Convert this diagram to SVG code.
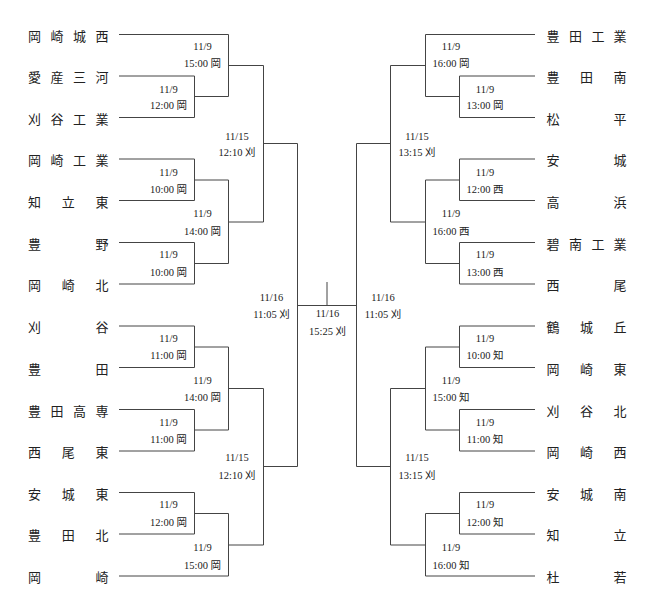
<svg xmlns="http://www.w3.org/2000/svg" width="654" height="610" viewBox="0 0 654 610">
<style>
.ln{fill:none;stroke:#444;stroke-width:1}
.tm{font-family:"Liberation Serif","Noto Sans CJK JP",serif;font-size:13px;fill:#222;text-anchor:middle}
.lb{font-family:"Liberation Serif","Noto Sans CJK JP",serif;font-size:10.5px;fill:#222;text-anchor:middle}
</style>
<rect width="654" height="610" fill="#fff"/>
<g id="connectors">
<!-- left side -->
<path class="ln" d="M119 34.5H228.5V96.5M119 76H194.5V117.5H119M194.5 96.5H228.5M228.5 65.5H263.5"/>
<path class="ln" d="M119 159H194.5V200.5H119M194.5 180H228.5M119 242.5H194.5V284H119M194.5 263.5H228.5M228.5 180V263.5M228.5 222H263.5"/>
<path class="ln" d="M263.5 65.5V222M263.5 143.5H297.5"/>
<path class="ln" d="M119 326H194.5V367.5H119M194.5 347H228.5M119 409.5H194.5V451H119M194.5 430H228.5M228.5 347V430M228.5 388.5H263.5"/>
<path class="ln" d="M119 492.5H194.5V534H119M194.5 513.5H228.5M119 576H228.5V513.5M228.5 545H263.5M263.5 388.5V545M263.5 466.5H297.5"/>
<path class="ln" d="M297.5 143.5V466.5M297.5 305.5H356.5M327 282V305.5"/>
<!-- right side -->
<path class="ln" d="M535 34.5H425.5V96.5M535 76H459.5V117.5H535M459.5 96.5H425.5M425.5 65.5H390.5"/>
<path class="ln" d="M535 159H459.5V200.5H535M459.5 180H425.5M535 242.5H459.5V284H535M459.5 263.5H425.5M425.5 180V263.5M425.5 222H390.5"/>
<path class="ln" d="M390.5 65.5V222M390.5 143.5H356.5"/>
<path class="ln" d="M535 326H459.5V367.5H535M459.5 347H425.5M535 409.5H459.5V451H535M459.5 430H425.5M425.5 347V430M425.5 388.5H390.5"/>
<path class="ln" d="M535 492.5H459.5V534H535M459.5 513.5H425.5M535 576H425.5V513.5M425.5 545H390.5M390.5 388.5V545M390.5 466.5H356.5"/>
<path class="ln" d="M356.5 143.5V466.5"/>
</g>
<g id="teams-left">
<text class="tm" x="34.5 57 79.5 102" y="40.5">岡崎城西</text>
<text class="tm" x="34.5 57 79.5 102" y="82">愛産三河</text>
<text class="tm" x="34.5 57 79.5 102" y="123.5">刈谷工業</text>
<text class="tm" x="34.5 57 79.5 102" y="165">岡崎工業</text>
<text class="tm" x="34.5 68.3 102" y="206.5">知立東</text>
<text class="tm" x="34.5 102" y="248.5">豊野</text>
<text class="tm" x="34.5 68.3 102" y="290">岡崎北</text>
<text class="tm" x="34.5 102" y="332">刈谷</text>
<text class="tm" x="34.5 102" y="373.5">豊田</text>
<text class="tm" x="34.5 57 79.5 102" y="415.5">豊田高専</text>
<text class="tm" x="34.5 68.3 102" y="457">西尾東</text>
<text class="tm" x="34.5 68.3 102" y="498.5">安城東</text>
<text class="tm" x="34.5 68.3 102" y="540">豊田北</text>
<text class="tm" x="34.5 102" y="582">岡崎</text>
</g>
<g id="teams-right">
<text class="tm" x="553 575.5 598 620" y="40.5">豊田工業</text>
<text class="tm" x="553 586.5 620" y="82">豊田南</text>
<text class="tm" x="553 620" y="123.5">松平</text>
<text class="tm" x="553 620" y="165">安城</text>
<text class="tm" x="553 620" y="206.5">高浜</text>
<text class="tm" x="553 575.5 598 620" y="248.5">碧南工業</text>
<text class="tm" x="553 620" y="290">西尾</text>
<text class="tm" x="553 586.5 620" y="332">鶴城丘</text>
<text class="tm" x="553 586.5 620" y="373.5">岡崎東</text>
<text class="tm" x="553 586.5 620" y="415.5">刈谷北</text>
<text class="tm" x="553 586.5 620" y="457">岡崎西</text>
<text class="tm" x="553 586.5 620" y="498.5">安城南</text>
<text class="tm" x="553 620" y="540">知立</text>
<text class="tm" x="553 620" y="582">杜若</text>
</g>
<g id="labels-left">
<text class="lb" x="202.5" y="49.5">11/9</text><text class="lb" x="202.5" y="66.5">15:00 岡</text>
<text class="lb" x="168.5" y="92.5">11/9</text><text class="lb" x="168.5" y="109">12:00 岡</text>
<text class="lb" x="237" y="139.5">11/15</text><text class="lb" x="237" y="156">12:10 刈</text>
<text class="lb" x="168.5" y="175.5">11/9</text><text class="lb" x="168.5" y="193">10:00 岡</text>
<text class="lb" x="202.5" y="217">11/9</text><text class="lb" x="202.5" y="234.5">14:00 岡</text>
<text class="lb" x="168.5" y="258">11/9</text><text class="lb" x="168.5" y="276">10:00 岡</text>
<text class="lb" x="271.5" y="300.5">11/16</text><text class="lb" x="271.5" y="318">11:05 刈</text>
<text class="lb" x="168.5" y="342">11/9</text><text class="lb" x="168.5" y="359">11:00 岡</text>
<text class="lb" x="202.5" y="384">11/9</text><text class="lb" x="202.5" y="400.5">14:00 岡</text>
<text class="lb" x="168.5" y="425.5">11/9</text><text class="lb" x="168.5" y="443">11:00 岡</text>
<text class="lb" x="237" y="461">11/15</text><text class="lb" x="237" y="479">12:10 刈</text>
<text class="lb" x="168.5" y="508">11/9</text><text class="lb" x="168.5" y="526">12:00 岡</text>
<text class="lb" x="202.5" y="551">11/9</text><text class="lb" x="202.5" y="568.5">15:00 岡</text>
</g>
<g id="label-final">
<text class="lb" x="327.5" y="316.5">11/16</text><text class="lb" x="327.5" y="334.5">15:25 刈</text>
</g>
<g id="labels-right">
<text class="lb" x="451" y="49.5">11/9</text><text class="lb" x="451" y="66.5">16:00 岡</text>
<text class="lb" x="485" y="92.5">11/9</text><text class="lb" x="485" y="109">13:00 岡</text>
<text class="lb" x="417" y="139.5">11/15</text><text class="lb" x="417" y="156">13:15 刈</text>
<text class="lb" x="485" y="175.5">11/9</text><text class="lb" x="485" y="193">12:00 西</text>
<text class="lb" x="451" y="217">11/9</text><text class="lb" x="451" y="234.5">16:00 西</text>
<text class="lb" x="485" y="258">11/9</text><text class="lb" x="485" y="276">13:00 西</text>
<text class="lb" x="383" y="300.5">11/16</text><text class="lb" x="383" y="318">11:05 刈</text>
<text class="lb" x="485" y="342">11/9</text><text class="lb" x="485" y="359">10:00 知</text>
<text class="lb" x="451" y="384">11/9</text><text class="lb" x="451" y="400.5">15:00 知</text>
<text class="lb" x="485" y="425.5">11/9</text><text class="lb" x="485" y="443">11:00 知</text>
<text class="lb" x="417" y="461">11/15</text><text class="lb" x="417" y="479">13:15 刈</text>
<text class="lb" x="485" y="508">11/9</text><text class="lb" x="485" y="526">12:00 知</text>
<text class="lb" x="451" y="551">11/9</text><text class="lb" x="451" y="568.5">16:00 知</text>
</g>
</svg>
